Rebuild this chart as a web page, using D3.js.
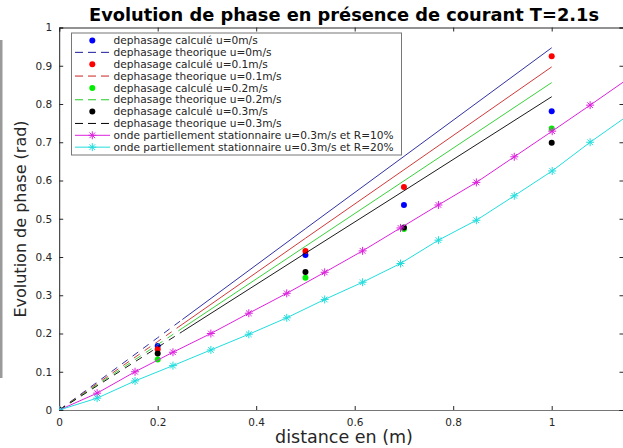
<!DOCTYPE html>
<html><head><meta charset="utf-8">
<script src="https://cdn.jsdelivr.net/npm/d3@7"></script>
<style>body{margin:0;background:#fff}svg{display:block}text{font-family:"DejaVu Sans",sans-serif}</style>
</head><body><svg id="c" width="623" height="448"></svg>
<script>
// ---- data ----
const measX = [0, 0.2, 0.5, 0.7, 1.0];
const calcU0  = [0, 0.167, 0.405, 0.536, 0.781];
const calcU01 = [0, 0.159, 0.416, 0.583, 0.925];
const calcU02 = [0, 0.132, 0.346, 0.473, 0.736];
const calcU03 = [0, 0.148, 0.361, 0.477, 0.699];
const theoX = [0, 0.2, 0.5, 0.7, 1.0];
const theoU0  = [0, 0.189, 0.474, 0.663, 0.947];
const theoU01 = [0, 0.179, 0.449, 0.628, 0.897];
const theoU02 = [0, 0.171, 0.428, 0.599, 0.856];
const theoU03 = [0, 0.164, 0.410, 0.573, 0.819];
const standX = [0, 0.077, 0.154, 0.231, 0.308, 0.385, 0.462, 0.539, 0.616, 0.693, 0.770, 0.847, 0.924, 1.001, 1.078, 1.155];
const standR10 = [0, 0.044, 0.100, 0.151, 0.200, 0.253, 0.305, 0.360, 0.416, 0.476, 0.536, 0.595, 0.662, 0.729, 0.797, 0.866];
const standR20 = [0, 0.031, 0.076, 0.116, 0.157, 0.198, 0.241, 0.289, 0.334, 0.383, 0.444, 0.496, 0.560, 0.625, 0.700, 0.770];
const xTicks = [0, 0.2, 0.4, 0.6, 0.8, 1];
const yTicks = [0, 0.1, 0.2, 0.3, 0.4, 0.5, 0.6, 0.7, 0.8, 0.9, 1];
const legendLabels = [
  "dephasage calculé u=0m/s", "dephasage theorique u=0m/s",
  "dephasage calculé u=0.1m/s", "dephasage theorique u=0.1m/s",
  "dephasage calculé u=0.2m/s", "dephasage theorique u=0.2m/s",
  "dephasage calculé u=0.3m/s", "dephasage theorique u=0.3m/s",
  "onde partiellement stationnaire u=0.3m/s et R=10%",
  "onde partiellement stationnaire u=0.3m/s et R=20%"];

// ---- layout ----
const svg = d3.select("#c");
const L = 59.2, R = 623.5, T = 27.5, B = 410;
const x = d3.scaleLinear().domain([0, (R - L) / 492.5]).range([L, R]);
const y = d3.scaleLinear().domain([0, 1]).range([B, T]);

svg.append("rect").attr("x",0).attr("y",40).attr("width",2.5).attr("height",338).attr("fill","#9a9a9a");

svg.append("defs").append("clipPath").attr("id","clip").append("rect")
  .attr("x",L).attr("y",T).attr("width",R-L).attr("height",B-T);

const axc = "#262626";
const ax = svg.append("g").attr("transform",`translate(0,${B})`)
  .call(d3.axisBottom(x).tickValues(xTicks).tickSize(-4).tickPadding(9).tickFormat(d3.format("~g")));
const ay = svg.append("g").attr("transform",`translate(${L},0)`)
  .call(d3.axisLeft(y).tickValues(yTicks).tickSize(-4).tickPadding(7).tickFormat(d3.format("~g")));
const axt = svg.append("g").attr("transform",`translate(0,${T})`)
  .call(d3.axisTop(x).tickValues(xTicks).tickSize(-4).tickFormat(""));
const ayr = svg.append("g").attr("transform",`translate(${R},0)`)
  .call(d3.axisRight(y).tickValues(yTicks).tickSize(-4).tickFormat(""));
[ax, ay, axt, ayr].forEach(g => {
  g.select(".domain").attr("stroke", axc).attr("stroke-width", 1);
  g.selectAll(".tick line").attr("stroke", axc);
  g.selectAll(".tick text").attr("fill", axc).attr("font-size", "10.5px").attr("font-family", "DejaVu Sans");
});
ax.select(".domain").attr("stroke","#777");

const plot = svg.append("g").attr("clip-path","url(#clip)");
const line = d3.line().x(d => x(d[0])).y(d => y(d[1]));
const zip = (xs, ys) => xs.map((v, i) => [v, ys[i]]);
const starPath = r => { const a = r * 0.7071;
  return `M${-r},0H${r}M0,${-r}V${r}M${-a},${-a}L${a},${a}M${-a},${a}L${a},${-a}`; };

function dots(xs, ys, col) {
  plot.selectAll(null).data(zip(xs, ys)).enter().append("circle")
    .attr("cx", d => x(d[0])).attr("cy", d => y(d[1])).attr("r", 3).attr("fill", col);
}
function theo(xs, ys, col) {
  const pts = zip(xs, ys);
  const dashEnd = 0.25;
  const pd = pts.filter(p => p[0] <= 0.2).concat([[dashEnd, ys[1] + (ys[2]-ys[1])*(dashEnd-xs[1])/(xs[2]-xs[1])]]);
  const ps = [pd[pd.length-1]].concat(pts.filter(p => p[0] > dashEnd));
  plot.append("path").attr("d", line(pd)).attr("fill","none").attr("stroke",col).attr("stroke-width",0.9).attr("stroke-dasharray","7,6");
  plot.append("path").attr("d", line(ps)).attr("fill","none").attr("stroke",col).attr("stroke-width",0.9);
}
function stand(xs, ys, col) {
  const pts = zip(xs, ys);
  plot.append("path").attr("d", line(pts)).attr("fill","none").attr("stroke",col).attr("stroke-width",1);
  plot.selectAll(null).data(pts).enter().append("path")
    .attr("transform", d => `translate(${x(d[0])},${y(d[1])})`)
    .attr("d", starPath(4)).attr("stroke", col).attr("stroke-width", 1).attr("fill","none");
}
const cBlue = "#0000ff", cBlueL = "#1a1a9a", cRed = "#ff0000", cRedL = "#cc2222", cGreen = "#00ee00", cGreenL = "#22cc22", cMag = "#dd22dd", cCyan = "#22dddd";
dots(measX, calcU0, cBlue);   theo(theoX, theoU0, cBlueL);
dots(measX, calcU01, cRed);   theo(theoX, theoU01, cRedL);
dots(measX, calcU02, cGreen); theo(theoX, theoU02, cGreenL);
dots(measX, calcU03, "#000"); theo(theoX, theoU03, "#000");
stand(standX, standR10, cMag);
stand(standX, standR20, cCyan);

// legend
const lg = svg.append("g");
lg.append("rect").attr("x",71.5).attr("y",33).attr("width",330).attr("height",122)
  .attr("fill","#fff").attr("stroke","#777").attr("stroke-width",1);
const kinds = [["dot",cBlue],["dash",cBlueL],["dot",cRed],["dash",cRedL],["dot",cGreen],["dash",cGreenL],["dot","#000"],["dash","#000"],["star",cMag],["star",cCyan]];
legendLabels.forEach((t, i) => {
  const cy = 40.5 + i * 11.85;
  const [k, col] = kinds[i];
  if (k === "dot") lg.append("circle").attr("cx",92.3).attr("cy",cy).attr("r",3).attr("fill",col);
  if (k === "dash") lg.append("line").attr("x1",75).attr("x2",110).attr("y1",cy).attr("y2",cy).attr("stroke",col).attr("stroke-dasharray","8,5");
  if (k === "star") { lg.append("line").attr("x1",75).attr("x2",110).attr("y1",cy).attr("y2",cy).attr("stroke",col);
    lg.append("path").attr("transform",`translate(92.3,${cy})`).attr("d",starPath(4)).attr("stroke",col).attr("fill","none"); }
  lg.append("text").attr("x",113.5).attr("y",cy+3.7).attr("font-size","10.6px").attr("fill","#262626").text(t);
});

// titles
svg.append("text").attr("x",344).attr("y",21).attr("text-anchor","middle").attr("font-weight","bold")
  .attr("font-size","17px").attr("textLength",510).attr("lengthAdjust","spacingAndGlyphs")
  .attr("fill","#000").text("Evolution de phase en présence de courant T=2.1s");
svg.append("text").attr("x",344).attr("y",443).attr("text-anchor","middle").attr("font-size","17.5px").attr("fill","#262626").text("distance en (m)");
svg.append("text").attr("transform","translate(26,219) rotate(-90)").attr("text-anchor","middle").attr("font-size","16px").attr("fill","#262626").text("Evolution de phase (rad)");
</script></body></html>
